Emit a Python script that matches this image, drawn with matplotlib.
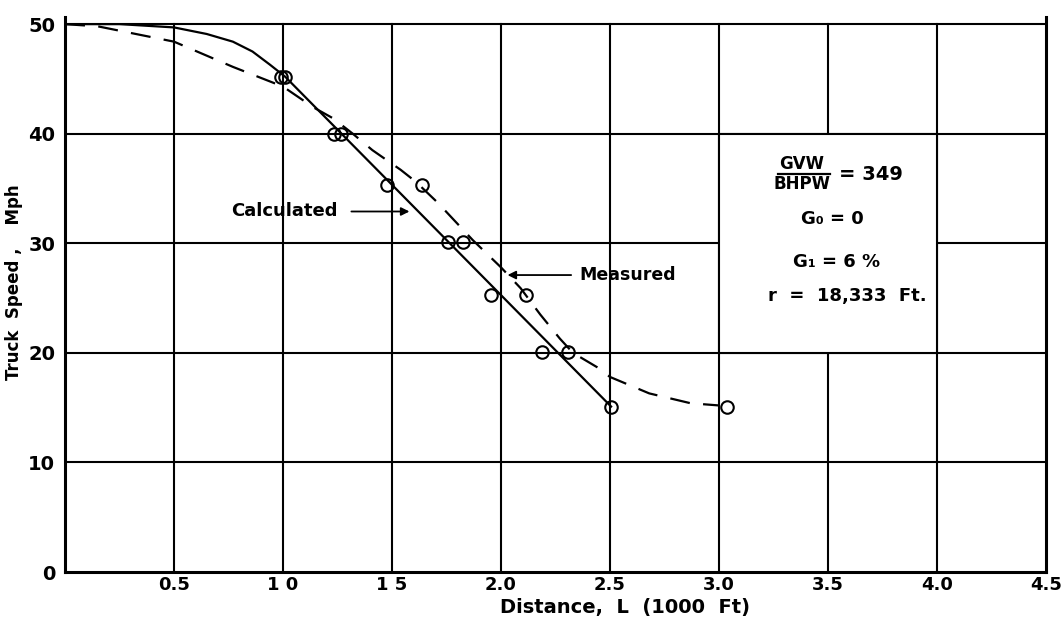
import matplotlib
matplotlib.use("Agg")
import matplotlib.pyplot as plt
from matplotlib.patches import Rectangle

# ── Data ──────────────────────────────────────────────────────────────────────
# Measured points (open circles), distance in 1000 ft, speed in mph
meas_x = [0.99, 1.01, 1.234, 1.266, 1.477, 1.638, 1.757, 1.826,
          1.954, 2.115, 2.188, 2.307, 2.505, 3.037]
meas_y = [45.2, 45.2, 40.0, 40.0, 35.3, 35.3, 30.1, 30.1,
          25.3, 25.3, 20.1, 20.1, 15.1, 15.1]

# Calculated curve (solid)
calc_x = [0.0, 0.25, 0.5, 0.65, 0.77, 0.86, 0.94, 1.01, 2.505]
calc_y = [50.0, 50.0, 49.7, 49.1, 48.4, 47.5, 46.3, 45.2, 15.1]

# Measured curve (dashed)
dash_x = [0.0, 0.15, 0.5, 0.77, 1.0, 1.14, 1.23, 1.32, 1.41, 1.54, 1.61,
          1.71, 1.87, 2.0, 2.09, 2.18, 2.27, 2.33, 2.44, 2.5, 2.68, 2.87, 3.0]
dash_y = [50.0, 49.8, 48.4, 46.1, 44.3, 42.4, 41.4, 40.0, 38.5, 36.7, 35.6,
          33.7, 30.3, 27.8, 25.9, 23.5, 21.3, 20.0, 18.7, 17.8, 16.3, 15.4, 15.2]

x_ticks = [0.5, 1.0, 1.5, 2.0, 2.5, 3.0, 3.5, 4.0, 4.5]
x_labels = ["0.5", "1 0", "1 5", "2.0", "2.5", "3.0", "3.5", "4.0", "4.5"]
y_ticks = [0, 10, 20, 30, 40, 50]

# ── Style ─────────────────────────────────────────────────────────────────────
plt.rcParams["font.family"] = ["DejaVu Sans"]
plt.rcParams["font.weight"] = "bold"

fig = plt.figure(figsize=(10.62, 6.27), dpi=100)
ax = fig.add_axes([65 / 1062, 55 / 627, (1046 - 65) / 1062, (572 - 17) / 627])

ax.set_xlim(0, 4.5)
ax.set_ylim(0, 50.65)

# grid
for xv in x_ticks[:-1]:
    ax.axvline(xv, ymax=50 / 50.65, color="black", lw=1.5, zorder=0.5)
for yv in y_ticks[1:]:
    ax.axhline(yv, color="black", lw=1.5, zorder=0.5)

# parameter box (covers the grid)
ax.add_patch(Rectangle((3.0, 20), 1.0, 20, facecolor="white",
                       edgecolor="black", lw=1.5, zorder=1))

# curves
ax.plot(calc_x, calc_y, color="black", lw=1.6, zorder=3)
ax.plot(dash_x, dash_y, color="black", lw=1.6, linestyle=(0, (9, 6)), zorder=3)
ax.plot(meas_x, meas_y, "o", markersize=9, markerfacecolor="none",
        markeredgecolor="black", markeredgewidth=1.5, zorder=4)

# spines
for side in ["left", "bottom", "right"]:
    ax.spines[side].set_linewidth(2.2)
ax.spines["top"].set_visible(False)

ax.set_xticks(x_ticks)
ax.set_xticklabels(x_labels)
ax.set_yticks(y_ticks)
ax.tick_params(length=0, labelsize=13, pad=3)
ax.tick_params(axis="y", labelsize=14, pad=7)
for lab in ax.get_xticklabels() + ax.get_yticklabels():
    lab.set_fontweight("bold")

ax.set_xlabel("Distance,  L  (1000  Ft)", fontsize=14, fontweight="bold")
ax.xaxis.set_label_coords((625 - 65) / 981, -(598 - 572) / 555)
ax.set_ylabel("Truck  Speed ,    Mph", fontsize=12, fontweight="bold")
ax.yaxis.set_label_coords(-(65 - 23) / 981, (572 - 282) / 555)

# annotations
ax.annotate("Calculated", xy=(1.58, 32.9), xytext=(1.25, 32.9),
            ha="right", va="center", fontsize=13, fontweight="bold",
            arrowprops=dict(arrowstyle="-|>", color="black", lw=1.3,
                            shrinkA=8, shrinkB=0, mutation_scale=12))
ax.annotate("Measured", xy=(2.03, 27.1), xytext=(2.36, 27.1),
            ha="left", va="center", fontsize=12.5, fontweight="bold",
            arrowprops=dict(arrowstyle="-|>", color="black", lw=1.3,
                            shrinkA=4, shrinkB=0, mutation_scale=12))

# parameter text
ax.text(3.38, 37.2, "GVW", ha="center", va="center", fontsize=12, fontweight="bold", zorder=5)
ax.text(3.38, 35.4, "BHPW", ha="center", va="center", fontsize=12, fontweight="bold", zorder=5)
ax.plot([3.27, 3.51], [36.3, 36.3], color="black", lw=1.6, zorder=5)
ax.text(3.55, 36.3, "= 349", ha="left", va="center", fontsize=14, fontweight="bold", zorder=5)
ax.text(3.52, 32.2, "G\u2080 = 0", ha="center", va="center", fontsize=13, fontweight="bold", zorder=5)
ax.text(3.54, 28.3, "G\u2081 = 6 %", ha="center", va="center", fontsize=13, fontweight="bold", zorder=5)
ax.text(3.59, 25.2, "r  =  18,333  Ft.", ha="center", va="center", fontsize=13, fontweight="bold", zorder=5)

fig.savefig("out.png", dpi=100)
